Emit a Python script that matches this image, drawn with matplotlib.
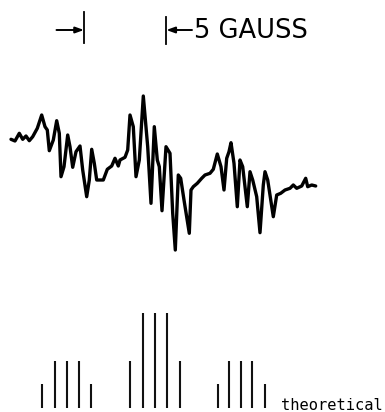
import matplotlib
matplotlib.use("Agg")
import matplotlib.pyplot as plt

# Experimental EPR trace (field position, signal) in image-like units (y grows downward)
spec_x = [11, 15, 19.3, 22.7, 26, 29.3, 32.7, 37.3, 41.7, 45, 47.3, 49.3, 53.3, 56.7,
          59.3, 61, 64, 67.7, 70, 72.7, 76, 80, 82.7, 86.7, 89.3, 91.7, 94.3, 96.7,
          103.3, 107.3, 111.7, 115, 118.3, 120, 125, 127.7, 130, 133.3, 136, 139.3,
          143.3, 147.7, 151, 154.3, 157.3, 159.3, 162, 166, 170, 172.7, 175.3, 178.3,
          180.7, 184, 189.3, 191, 193.3, 197.3, 201.7, 205, 210, 213.3, 217.3, 221,
          224, 226.7, 229, 231, 234, 237.3, 240, 242.7, 247.3, 250, 252.7, 256.7, 260,
          263.3, 265, 267.7, 273.3, 276.7, 280.7, 285, 290, 293.3, 296.7, 301.7,
          305.7, 307.7, 311.7, 315.7]
spec_y = [139.3, 141, 133.3, 139.3, 136, 140.7, 136.7, 128.3, 115, 126.7, 130, 150.7,
          140, 120.7, 133.3, 176.7, 166.7, 135, 146.7, 167.3, 151.7, 146, 170, 196.7,
          180, 149.3, 163.3, 180, 180, 169.3, 166, 158.3, 166, 160, 157.3, 150, 115,
          126.7, 176.7, 160, 96, 146.7, 203.3, 126.7, 160, 166.7, 210.7, 146.7, 153.3,
          213.3, 250, 175, 178.3, 200, 233.3, 190, 186.7, 183.3, 178.3, 175, 173.3,
          169.3, 154, 166.7, 190, 158.3, 151.7, 142.7, 163.3, 206.7, 160, 166.7,
          206.7, 171.7, 180, 196.7, 232.7, 185, 171.7, 180, 216.7, 195, 193.3, 190,
          188.3, 185, 188.3, 186, 178.3, 186.7, 185, 186]

# Theoretical stick spectrum: positions and relative intensities (three groups of five)
stick_x = [41.7, 55, 66.7, 78.7, 90.7,
           129.7, 142.7, 155, 167, 180,
           217.7, 228.7, 240.7, 252.3, 265]
stick_int = [1, 2, 2, 2, 1,
             2, 4, 4, 4, 2,
             1, 2, 2, 2, 1]

scale_label = "5 GAUSS"
stick_label = "theoretical"

W, H = 385, 412
fig = plt.figure(figsize=(W / 100, H / 100), dpi=100)

# Main axes in pixel-like coordinates
ax = fig.add_axes([0, 0, 1, 1])
ax.set_xlim(0, W)
ax.set_ylim(H, 0)
ax.axis("off")

ax.plot(spec_x, spec_y, color="black", lw=2.4, solid_joinstyle="round",
        solid_capstyle="round")

# Scale-bar markers
ax.plot([84.3, 84.3], [11.7, 43.3], color="black", lw=1.3)
ax.annotate("", xy=(84, 30), xytext=(56.5, 30),
            arrowprops=dict(arrowstyle="-|>,head_length=0.5,head_width=0.18",
                            color="black", lw=1.4, shrinkA=0, shrinkB=0))
ax.plot([166, 166], [16.7, 44.3], color="black", lw=1.3)
ax.annotate("", xy=(166.3, 30), xytext=(192, 30),
            arrowprops=dict(arrowstyle="-|>,head_length=0.5,head_width=0.18",
                            color="black", lw=1.4, shrinkA=0, shrinkB=0))
ax.text(194.5, 31, scale_label, fontsize=18.5, family="DejaVu Sans",
        va="center", ha="left", color="black")

# Stick spectrum axes: intensity 0 at y=408 px, 4 at y=313 px
base_px, top_px = 408, 313
sax = fig.add_axes([0, (H - base_px) / H, 1, (base_px - top_px) / H])
sax.set_xlim(0, W)
sax.set_ylim(0, 4)
sax.axis("off")
sax.vlines(stick_x, 0, stick_int, color="#111111", lw=1.5)

ax.text(281, 409.5, stick_label, fontsize=11.1, family="DejaVu Sans Mono",
        va="baseline", ha="left", color="black")

fig.savefig("out.png", dpi=100)
